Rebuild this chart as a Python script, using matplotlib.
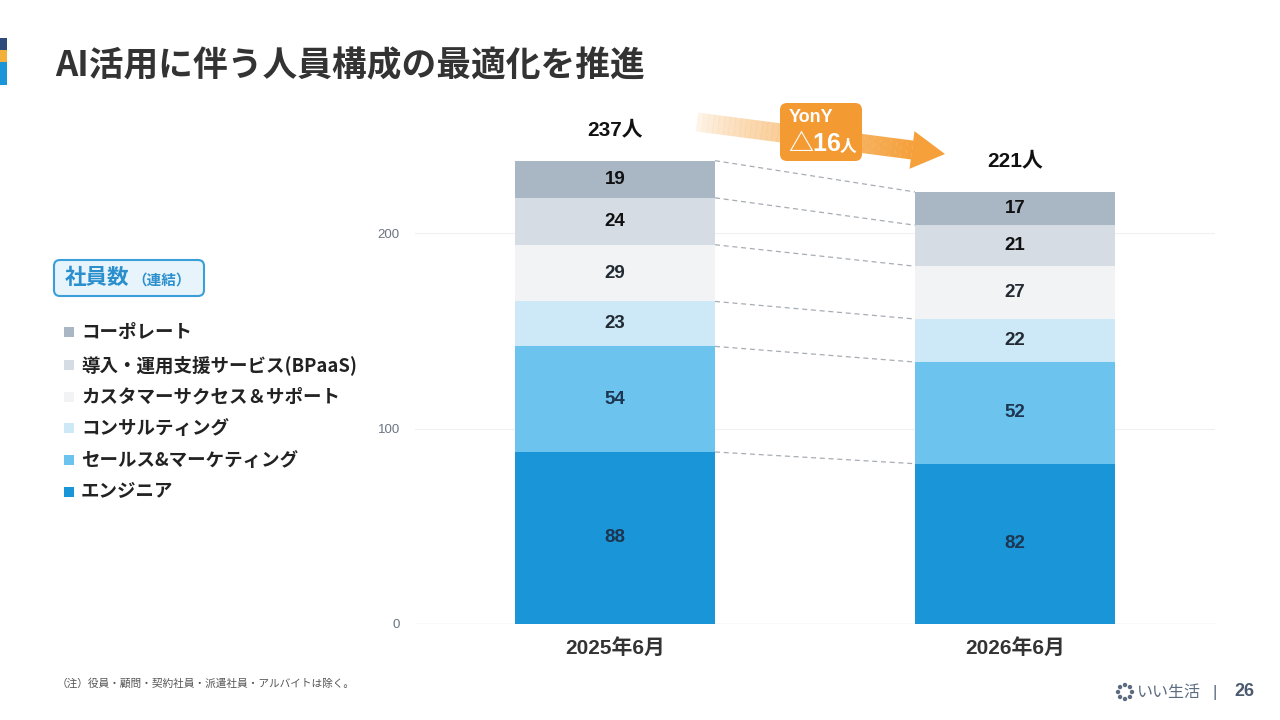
#!/usr/bin/env python3
# Stacked bar chart: headcount by function, Jun 2025 vs Jun 2026

import numpy as np
import matplotlib
matplotlib.use('Agg')
from matplotlib import pyplot as plt
from matplotlib.patches import FancyBboxPatch, Polygon, Rectangle

# Arial-like latin/digits, CJK falls through to Noto
plt.rcParams['font.family'] = ['Liberation Sans', 'Noto Sans CJK JP', 'DejaVu Sans']
JP = ['Noto Sans CJK JP', 'DejaVu Sans']

#
#   Data
#
periods = ['2025年6月', '2026年6月']
categories = ['エンジニア', 'セールス&マーケティング', 'コンサルティング',
              'カスタマーサクセス＆サポート', '導入・運用支援サービス(BPaaS)',
              'コーポレート']
engineer = [88, 82]
sales = [54, 52]
consulting = [23, 22]
support = [29, 27]
bpaas = [24, 21]
corporate = [19, 17]
totals = [237, 221]

colors = ['#1a96d8', '#6cc3ee', '#cde9f7', '#f1f3f5', '#d5dce3', '#a9b6c3']
label_colors = ['#1d3550', '#1d3550', '#222a33', '#222a33', '#111111', '#111111']

series = [engineer, sales, consulting, support, bpaas, corporate]

W, H = 1280, 720
fig = plt.figure(figsize=(12.8, 7.2), dpi=100)

# main chart axes (pixel layout converted to figure fractions)
ax_l, ax_r, ax_b, ax_t = 415, 1215, 624, 135.25
ax = fig.add_axes([ax_l / W, 1 - ax_b / H, (ax_r - ax_l) / W, (ax_b - ax_t) / H])
ax.set_xlim(-0.5, 1.5)
ax.set_ylim(0, 250)

x = np.arange(len(periods))
bar_w = 0.5
bottom = np.zeros(len(periods))
bounds = []
for vals, col, lc in zip(series, colors, label_colors):
    vals = np.array(vals, dtype=float)
    ax.bar(x, vals, bar_w, bottom=bottom, color=col, zorder=3, linewidth=0)
    for xi, v, b in zip(x, vals, bottom):
        ax.text(xi, b + v / 2, '{:d}'.format(int(v)), ha='center', va='center',
                fontsize=13.5, fontweight='bold', color=lc, zorder=4)
    bottom = bottom + vals
    bounds.append(bottom.copy())

# dashed connectors between stacks
for bnd in bounds:
    ax.plot([x[0] + bar_w / 2, x[1] - bar_w / 2], [bnd[0], bnd[1]],
            ls=(0, (4, 3)), color='#a8adb3', lw=0.9, zorder=2)

# totals above bars
for xi, t in zip(x, totals):
    ax.text(xi, t + 11, '{}人'.format(t), ha='center', va='bottom',
            fontsize=15, fontweight='bold', color='#111111')

# grid and axes styling
ax.set_yticks([0, 100, 200])
ax.yaxis.grid(True, color='#f0f0f0', lw=0.8, zorder=0)
ax.axhline(0, color='#e2e2e2', lw=1.0, zorder=1)
for s in ax.spines.values():
    s.set_visible(False)
ax.tick_params(axis='y', length=0, pad=11, labelsize=9.5, labelcolor='#6b7480')
ax.tick_params(axis='x', length=0, pad=10)
ax.set_xticks(x)
ax.set_xticklabels(periods, fontsize=15, fontweight='bold', color='#333333')

# overlay axes in pixel coordinates for slide decorations
ov = fig.add_axes([0, 0, 1, 1], zorder=5)
ov.set_xlim(0, W)
ov.set_ylim(H, 0)
ov.axis('off')
ov.patch.set_alpha(0)

# left colour stripes
ov.add_patch(Rectangle((0, 38), 7, 12, color='#2d4a7a', lw=0))
ov.add_patch(Rectangle((0, 50), 7, 12, color='#f3b13b', lw=0))
ov.add_patch(Rectangle((0, 62), 7, 23, color='#1a96d8', lw=0))

# title
ov.text(55, 66, 'AI活用に伴う人員構成の最適化を推進', fontsize=25,
        fontweight='bold', color='#333333', va='center', ha='left', family=JP)

# 社員数 box
ov.add_patch(FancyBboxPatch((54, 260), 150, 36,
                            boxstyle='round,pad=0,rounding_size=6',
                            fc='#e8f4fc', ec='#3a9fd8', lw=1.5))
ov.text(65, 278, '社員数', fontsize=15.5, fontweight='bold', color='#2a8fcc',
        va='center', ha='left', family=JP)
ov.text(132, 280, '（連結）', fontsize=10.5, fontweight='bold', color='#2a8fcc',
        va='center', ha='left', family=JP)

# legend (top category first)
leg_y = [332, 365, 397, 428, 460, 492]
for yy, cat, col in zip(leg_y, categories[::-1], colors[::-1]):
    ov.add_patch(Rectangle((64, yy - 5), 10, 10, color=col, lw=0))
    ov.text(81, yy, cat, fontsize=13.3, fontweight='bold', color='#222222',
            va='center', ha='left', family=JP)

# YonY arrow with a fading tail
p0 = np.array([697.0, 122.0])
p1 = np.array([912.0, 150.0])
tip = np.array([945.0, 154.0])
d = (p1 - p0) / np.linalg.norm(p1 - p0)
n = np.array([-d[1], d[0]])
half = 9.5
steps = 40
for i in range(steps):
    a = p0 + (p1 - p0) * i / steps
    b = p0 + (p1 - p0) * (i + 1.05) / steps
    alpha = 0.12 + 0.88 * (i / steps) ** 0.8
    ov.add_patch(Polygon([a + n * half, b + n * half, b - n * half, a - n * half],
                         closed=True, fc='#f5a03a', ec='none', alpha=alpha))
ov.add_patch(Polygon([p1 + n * 19, tip, p1 - n * 19], closed=True,
                     fc='#f5a03a', ec='none'))

ov.add_patch(FancyBboxPatch((780, 103), 82, 58,
                            boxstyle='round,pad=0,rounding_size=7',
                            fc='#f39a33', ec='none'))
ov.text(789, 118, 'YonY', fontsize=13, fontweight='bold', color='white',
        va='center', ha='left')
ov.text(788, 144, '△16', fontsize=18, fontweight='bold', color='white',
        va='center', ha='left')
ov.text(840, 147, '人', fontsize=12, fontweight='bold', color='white',
        va='center', ha='left', family=JP)

# footnote
ov.text(57, 683, '（注）役員・顧問・契約社員・派遣社員・アルバイトは除く。',
        fontsize=7.7, color='#555555', va='center', ha='left', family=JP)

# logo and page number
ang = np.linspace(0, 2 * np.pi, 8, endpoint=False)
for a in ang:
    ov.add_patch(plt.Circle((1125 + 7 * np.cos(a), 692 + 7 * np.sin(a)), 2.2,
                            color='#5b6b80', lw=0))
ov.text(1137, 692, 'いい生活', fontsize=11.5, color='#5b6b80',
        va='center', ha='left', family=JP)
ov.text(1212, 692, '|', fontsize=12, color='#5b6b80', va='center', ha='left')
ov.text(1234, 692, '26', fontsize=13, fontweight='bold', color='#4b5a6e',
        va='center', ha='left')

fig.savefig('out.png', dpi=100)
plt.close(fig)
